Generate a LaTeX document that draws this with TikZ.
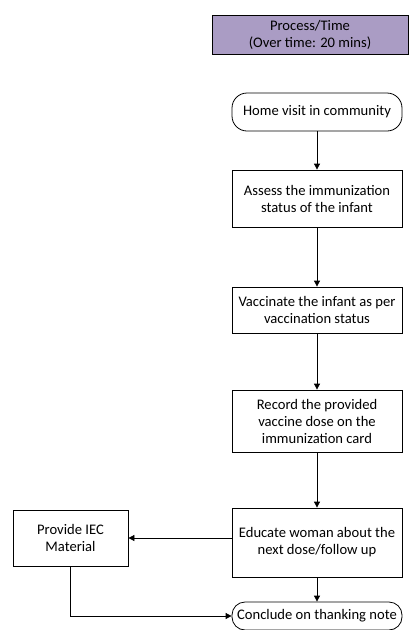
\documentclass[tikz,border=0pt]{standalone}
\usepackage{fontspec}
\setmainfont{Carlito}
\usetikzlibrary{arrows.meta,positioning}
\definecolor{hdrfill}{RGB}{170,156,196}
\tikzset{
  box/.style={draw=black, line width=0.8pt, fill=white, align=center, inner sep=1pt,
    font=\fontsize{14.6}{17}\selectfont},
  term/.style={box, rounded corners=15pt},
  arr/.style={draw=black, line width=0.8pt, -{Triangle[length=6pt,width=6pt]}},
}
\begin{document}
\begin{tikzpicture}[x=1pt,y=-1pt]
\useasboundingbox (0,0) rectangle (409,630);
\node[box, fill=hdrfill, minimum width=196pt, minimum height=39pt] (hdr) at (310,34.5) {Process/Time\\(Over time: 20 mins)};
\node[term, minimum width=170pt, minimum height=38pt] (start) at (317,112) {Home visit in community};
\node[box, minimum width=170pt, minimum height=57pt] (assess) at (317,198.5) {Assess the immunization\\status of the infant};
\node[box, minimum width=170pt, minimum height=46pt] (vacc) at (317,310) {Vaccinate the infant as per\\vaccination status};
\node[box, minimum width=170pt, minimum height=62pt] (record) at (317,421) {Record the provided\\vaccine dose on the\\immunization card};
\node[box, minimum width=170pt, minimum height=69pt] (educate) at (317,542.5) {Educate woman about the\\next dose/follow up};
\node[box, minimum width=115pt, minimum height=56pt] (iec) at (70.5,538) {Provide IEC\\Material};
\node[term, minimum width=170pt, minimum height=28pt, rounded corners=13pt] (conclude) at (317,616) {Conclude on thanking note};
\draw[arr] (start) -- (assess);
\draw[arr] (assess) -- (vacc);
\draw[arr] (vacc) -- (record);
\draw[arr] (record) -- (educate);
\draw[arr] (educate) -- (conclude);
\draw[arr] (iec.east -| educate.west) -- (iec.east);
\draw[arr] (iec.south) |- (conclude.west);
\end{tikzpicture}
\end{document}
